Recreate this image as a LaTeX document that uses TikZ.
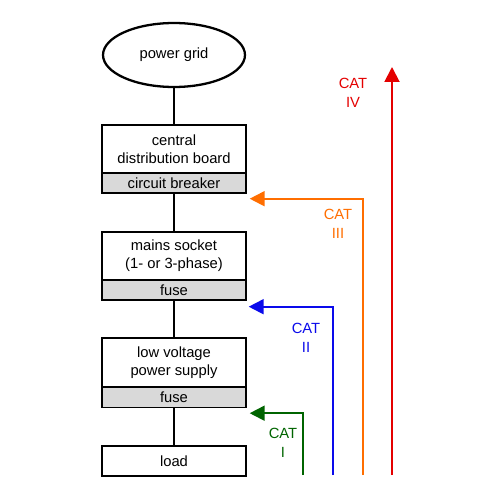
\documentclass[tikz,border=0pt]{standalone}
\usepackage{fontspec}
\setmainfont{Liberation Sans}
\usetikzlibrary{shapes.geometric,arrows.meta}
\definecolor{catred}{RGB}{228,0,0}
\definecolor{catorange}{RGB}{255,110,0}
\definecolor{catblue}{RGB}{10,10,235}
\definecolor{catgreen}{RGB}{0,100,0}
\definecolor{partgray}{RGB}{217,217,217}

\begin{document}
\begin{tikzpicture}[x=0.02cm,y=-0.02cm,
        every node/.style={font=\fontsize{8.4}{10.2}\selectfont},
        block/.style={draw,line width=0.8pt,minimum width=2.88cm,align=center,inner sep=0pt},
        part/.style={block,fill=partgray,minimum height=0.4cm},
        wire/.style={line width=1.3pt},
        catarrow/.style={line width=1.1pt,-{Triangle[length=0.3cm,width=0.3cm]}},
        catlabel/.style={align=center,font=\fontsize{8.4}{10.8}\selectfont}]
        \useasboundingbox(0,0)rectangle(500,500);
        % chain of the supply
        \node[draw,ellipse,line width=1.3pt,minimum width=2.84cm,minimum height=1.28cm](grid)at(174,55){power grid};
        \node[block,minimum height=0.96cm](board)at(174,149){central\\distribution board};
        \node[part](breaker)at(174,183){circuit breaker};
        \node[block,minimum height=0.96cm](socket)at(174,256){mains socket\\(1- or 3-phase)};
        \node[part](fusea)at(174,290){fuse};
        \node[block,minimum height=0.98cm](supply)at(174,362.5){low voltage\\power supply};
        \node[part](fuseb)at(174,397.5){fuse};
        \node[block,minimum height=0.6cm](load)at(174,461){load};
        \draw[wire](grid)--(board);
        \draw[wire](breaker)--(socket);
        \draw[wire](fusea)--(supply);
        \draw[wire](fuseb)--(load);
        % categories
        \coordinate(cat4start)at(392,475);
        \coordinate(cat4end)at(392,67);
        \coordinate(cat3start)at(363,475);
        \coordinate(cat2start)at(333,475);
        \coordinate(cat1start)at(303,475);
        \draw[catarrow,catred](cat4start)--(cat4end);
        \draw[catarrow,catorange](cat3start)|-([shift={(3,5)}]breaker.south east);
        \draw[catarrow,catblue](cat2start)|-([shift={(2,6)}]fusea.south east);
        \draw[catarrow,catgreen](cat1start)|-([shift={(3,5)}]fuseb.south east);
        \node[catlabel,catred](cat4)at(353,92.5){CAT\\IV};
        \node[catlabel,catorange](cat3)at(338,223.5){CAT\\III};
        \node[catlabel,catblue](cat2)at(306,337.5){CAT\\II};
        \node[catlabel,catgreen](cat1)at(283,442.5){CAT\\I};
    \end{tikzpicture}
\end{document}
